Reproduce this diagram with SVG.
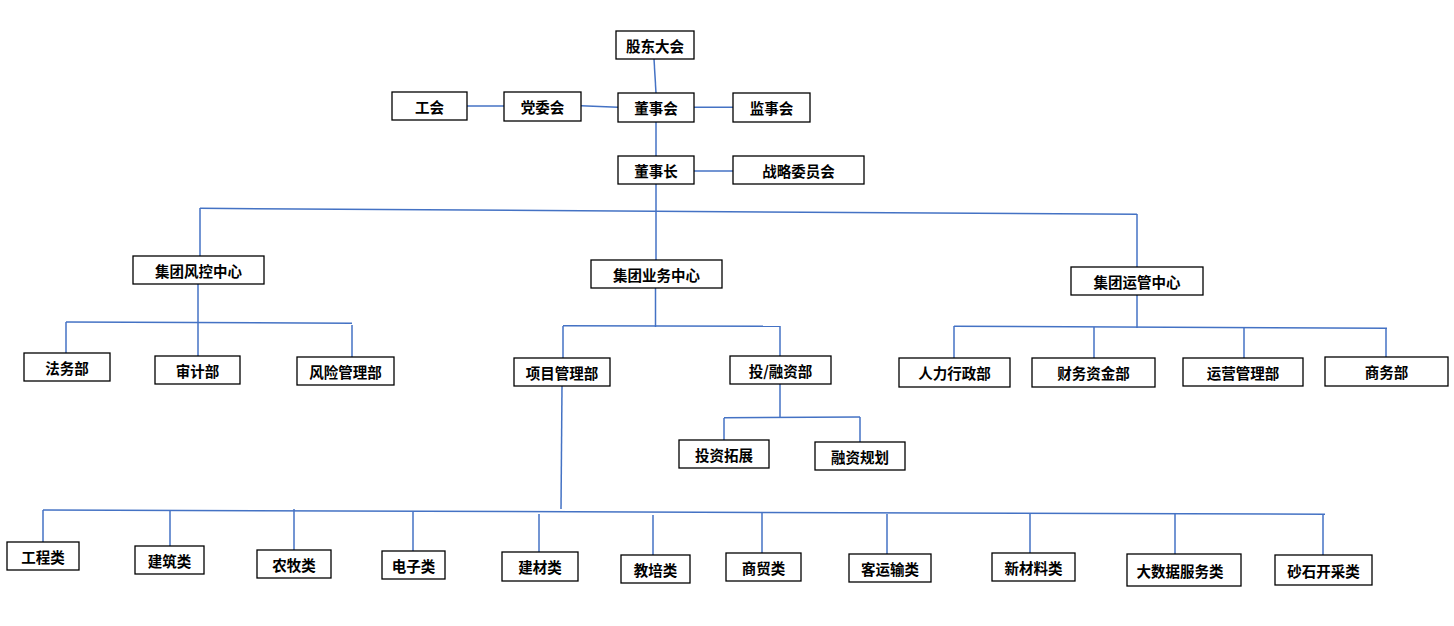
<svg xmlns="http://www.w3.org/2000/svg" width="1454" height="626" viewBox="0 0 1454 626">
<style>
.box{fill:#fff;stroke:#000;stroke-width:1.3}
.t{font-family:"Noto Sans CJK SC","Noto Sans",sans-serif;font-size:14.5px;font-weight:bold;fill:#000;text-anchor:middle;dominant-baseline:central}
.c line{stroke:#4472C4;stroke-width:1.5;fill:none}
</style>
<rect width="1454" height="626" fill="#fff"/>
<g class="c" id="connectors">
<line x1="654" y1="59" x2="656" y2="93"/>
<line x1="467" y1="106" x2="504" y2="106"/>
<line x1="581" y1="105.7" x2="618" y2="107.3"/>
<line x1="694" y1="107.3" x2="733" y2="107.3"/>
<line x1="656" y1="122" x2="656" y2="156"/>
<line x1="694" y1="171" x2="733" y2="171"/>
<line x1="656" y1="184" x2="656" y2="260"/>
<line x1="200" y1="208.3" x2="1137" y2="214.3"/>
<line x1="200" y1="208" x2="200" y2="256"/>
<line x1="1137" y1="214" x2="1137" y2="267"/>
<line x1="198" y1="284" x2="198" y2="356"/>
<line x1="66" y1="322" x2="352" y2="323.3"/>
<line x1="66" y1="322" x2="66" y2="353"/>
<line x1="352" y1="325" x2="352" y2="357"/>
<line x1="655.5" y1="288" x2="655.5" y2="327"/>
<line x1="563" y1="325.7" x2="780" y2="326.3"/>
<line x1="563" y1="326" x2="563" y2="358"/>
<line x1="780" y1="326" x2="780" y2="356"/>
<line x1="562" y1="386" x2="561" y2="509"/>
<line x1="780" y1="384" x2="780" y2="417.5"/>
<line x1="724" y1="417.7" x2="860" y2="417"/>
<line x1="724" y1="418" x2="724" y2="440"/>
<line x1="860" y1="417" x2="860" y2="442"/>
<line x1="1137" y1="295" x2="1137" y2="328"/>
<line x1="954" y1="326.3" x2="1387" y2="328.3"/>
<line x1="954" y1="326" x2="954" y2="358"/>
<line x1="1094" y1="327" x2="1094" y2="358"/>
<line x1="1244" y1="328" x2="1244" y2="358"/>
<line x1="1386" y1="328" x2="1386" y2="357"/>
<line x1="43" y1="510" x2="1325" y2="514.3"/>
<line x1="43" y1="510" x2="43" y2="542"/>
<line x1="170" y1="511" x2="170" y2="546"/>
<line x1="294" y1="509" x2="294" y2="550"/>
<line x1="413" y1="512" x2="413" y2="551"/>
<line x1="539" y1="514" x2="539" y2="552"/>
<line x1="653" y1="515" x2="653" y2="555"/>
<line x1="762" y1="513" x2="762" y2="553"/>
<line x1="887" y1="514" x2="887" y2="554"/>
<line x1="1030" y1="514" x2="1030" y2="553"/>
<line x1="1175" y1="514" x2="1175" y2="554"/>
<line x1="1323" y1="514" x2="1323" y2="555"/>
</g>
<g id="n-gudong"><rect class="box" x="616" y="31" width="78" height="28"/><text class="t" x="655" y="45">股东大会</text></g>
<g id="n-gonghui"><rect class="box" x="392" y="92" width="75" height="28"/><text class="t" x="429.5" y="106">工会</text></g>
<g id="n-dangwei"><rect class="box" x="504" y="92" width="77" height="29"/><text class="t" x="542.5" y="106.5">党委会</text></g>
<g id="n-dongshihui"><rect class="box" x="618" y="93" width="76" height="29"/><text class="t" x="656" y="107.5">董事会</text></g>
<g id="n-jianshihui"><rect class="box" x="733" y="93" width="77" height="29"/><text class="t" x="771.5" y="107.5">监事会</text></g>
<g id="n-dongshizhang"><rect class="box" x="618" y="156" width="76" height="28"/><text class="t" x="656" y="170">董事长</text></g>
<g id="n-zhanlue"><rect class="box" x="733" y="156" width="131" height="28"/><text class="t" x="798.5" y="170">战略委员会</text></g>
<g id="n-fengkong"><rect class="box" x="133" y="256" width="131" height="28"/><text class="t" x="198.5" y="270">集团风控中心</text></g>
<g id="n-yewu"><rect class="box" x="591" y="260" width="131" height="28"/><text class="t" x="656.5" y="274">集团业务中心</text></g>
<g id="n-yunguan"><rect class="box" x="1071" y="267" width="132" height="28"/><text class="t" x="1137" y="281">集团运管中心</text></g>
<g id="n-fawu"><rect class="box" x="24" y="353" width="86" height="28"/><text class="t" x="67" y="367">法务部</text></g>
<g id="n-shenji"><rect class="box" x="155" y="356" width="85" height="28"/><text class="t" x="197.5" y="370">审计部</text></g>
<g id="n-fengxian"><rect class="box" x="297" y="357" width="97" height="28"/><text class="t" x="345.5" y="371">风险管理部</text></g>
<g id="n-xiangmu"><rect class="box" x="514" y="358" width="96" height="28"/><text class="t" x="562" y="372">项目管理部</text></g>
<g id="n-tourong"><rect class="box" x="730" y="356" width="101" height="28"/><text class="t" x="780.5" y="370">投/融资部</text></g>
<g id="n-touzi"><rect class="box" x="679" y="440" width="90" height="28"/><text class="t" x="724" y="454">投资拓展</text></g>
<g id="n-rongzi"><rect class="box" x="815" y="442" width="90" height="28"/><text class="t" x="860" y="456">融资规划</text></g>
<g id="n-renli"><rect class="box" x="899" y="358" width="111" height="29"/><text class="t" x="954.5" y="372.5">人力行政部</text></g>
<g id="n-caiwu"><rect class="box" x="1032" y="358" width="123" height="29"/><text class="t" x="1093.5" y="372.5">财务资金部</text></g>
<g id="n-yunying"><rect class="box" x="1183" y="358" width="120" height="28"/><text class="t" x="1243" y="372">运营管理部</text></g>
<g id="n-shangwu"><rect class="box" x="1325" y="357" width="123" height="29"/><text class="t" x="1386.5" y="371.5">商务部</text></g>
<g id="n-gongcheng"><rect class="box" x="7" y="542" width="72" height="28"/><text class="t" x="43" y="556">工程类</text></g>
<g id="n-jianzhu"><rect class="box" x="135" y="546" width="69" height="28"/><text class="t" x="169.5" y="560">建筑类</text></g>
<g id="n-nongmu"><rect class="box" x="257" y="550" width="74" height="28"/><text class="t" x="294" y="564">农牧类</text></g>
<g id="n-dianzi"><rect class="box" x="382" y="551" width="63" height="28"/><text class="t" x="413.5" y="565">电子类</text></g>
<g id="n-jiancai"><rect class="box" x="502" y="552" width="76" height="29"/><text class="t" x="540" y="566.5">建材类</text></g>
<g id="n-jiaopei"><rect class="box" x="621" y="555" width="69" height="28"/><text class="t" x="655.5" y="569">教培类</text></g>
<g id="n-shangmao"><rect class="box" x="726" y="553" width="75" height="28"/><text class="t" x="763.5" y="567">商贸类</text></g>
<g id="n-keyun"><rect class="box" x="849" y="554" width="82" height="28"/><text class="t" x="890" y="568">客运输类</text></g>
<g id="n-xincailiao"><rect class="box" x="992" y="553" width="83" height="28"/><text class="t" x="1033.5" y="567">新材料类</text></g>
<g id="n-dashuju"><rect class="box" x="1127" y="554" width="114" height="32"/><text class="t" x="1180" y="570">大数据服务类</text></g>
<g id="n-shashi"><rect class="box" x="1275" y="555" width="97" height="30"/><text class="t" x="1323.5" y="570">砂石开采类</text></g>
</svg>
